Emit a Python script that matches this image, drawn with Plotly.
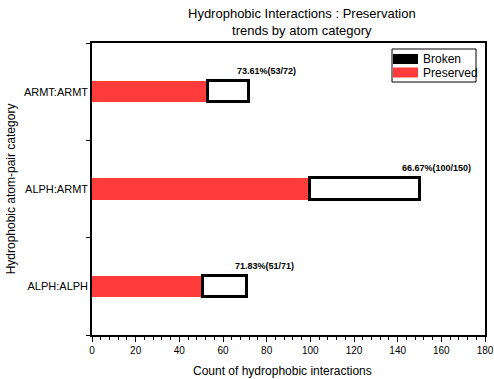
import plotly.graph_objects as go

# Hydrophobic atom-pair categories (bottom to top)
categories = ["ALPH:ALPH", "ALPH:ARMT", "ARMT:ARMT"]
preserved = [51, 100, 53]
broken = [20, 50, 19]
totals = [p + b for p, b in zip(preserved, broken)]
pct_labels = [f"{100 * p / t:.2f}%({p}/{t})" for p, t in zip(preserved, totals)]

x_ticks = list(range(0, 181, 20))
legend_names = ["Broken", "Preserved"]

FONT = "Liberation Sans, Arial, sans-serif"
RED = "#ff3b3b"
BAR_W = 0.22

W, H = 494, 379
M_L, M_R, M_T, M_B = 92, 9, 43, 44
PW, PH = W - M_L - M_R, H - M_T - M_B


def px_x(p):
    return (p - M_L) / PW


def px_y(p):
    return (H - M_B - p) / PH


fig = go.Figure()

fig.add_trace(go.Bar(
    y=categories, x=preserved, orientation="h", name="Preserved",
    width=BAR_W, marker=dict(color=RED, line=dict(width=0)),
    showlegend=False,
))
fig.add_trace(go.Bar(
    y=categories, x=broken, orientation="h", name="Broken",
    width=BAR_W, marker=dict(color="white", line=dict(color="black", width=3.5)),
    showlegend=False,
))

for cat_i, (t, lab) in enumerate(zip(totals, pct_labels)):
    fig.add_annotation(
        x=t, y=cat_i + BAR_W / 2, xref="x", yref="y",
        text=f"<b>{lab}</b>", showarrow=False,
        xanchor="center", yanchor="bottom", xshift=17, yshift=3,
        font=dict(family=FONT, size=9, color="black"),
    )

# title
fig.add_annotation(
    x=px_x(302), y=px_y(21.5), xref="paper", yref="paper",
    text="Hydrophobic Interactions : Preservation<br>trends by atom category",
    showarrow=False, xanchor="center", yanchor="middle",
    font=dict(family=FONT, size=13, color="black"),
)

# x axis title
fig.add_annotation(
    x=px_x(282), y=px_y(371), xref="paper", yref="paper",
    text="Count of hydrophobic interactions",
    showarrow=False, xanchor="center", yanchor="middle",
    font=dict(family=FONT, size=12, color="black"),
)

# legend box with solid swatches
fig.add_shape(type="rect", xref="paper", yref="paper",
              x0=px_x(392), x1=px_x(476), y0=px_y(82), y1=px_y(49),
              line=dict(color="#000000", width=1), fillcolor="#ffffff", layer="above")
swatch_colors = ["#000000", RED]
for k, (name, col) in enumerate(zip(legend_names, swatch_colors)):
    cy = 59 + k * 13.5
    fig.add_shape(type="line", xref="paper", yref="paper",
                  x0=px_x(393), x1=px_x(418), y0=px_y(cy), y1=px_y(cy),
                  line=dict(color=col, width=10), layer="above")
    fig.add_annotation(x=px_x(421), y=px_y(cy), xref="paper", yref="paper",
                       text=name, showarrow=False, xanchor="left", yanchor="middle",
                       font=dict(family=FONT, size=12, color="black"))

fig.update_layout(
    width=W, height=H,
    margin=dict(l=M_L, r=M_R, t=M_T, b=M_B, autoexpand=False),
    barmode="stack",
    paper_bgcolor="white", plot_bgcolor="white",
    font=dict(family=FONT, color="black"),
    showlegend=False,
    bargap=0,
)

fig.update_xaxes(
    range=[0, 180], tickvals=x_ticks,
    ticks="outside", ticklen=5, tickwidth=1, tickcolor="black",
    minor=dict(dtick=4, ticks="outside", ticklen=3, tickcolor="black", tickwidth=1),
    showline=True, linecolor="black", linewidth=1.5, mirror=True,
    showgrid=False, zeroline=False, automargin=False,
    ticklabelstandoff=0,
    tickfont=dict(family=FONT, size=10, color="black"),
)

fig.update_yaxes(
    categoryorder="array", categoryarray=categories,
    range=[-0.5, 2.5],
    tickson="boundaries", ticks="outside", ticklen=4, tickwidth=1, tickcolor="black",
    showline=True, linecolor="black", linewidth=1.5, mirror=True,
    showgrid=False, zeroline=False, automargin=False,
    tickfont=dict(family=FONT, size=11, color="black"),
    title=dict(text="Hydrophobic atom-pair category",
               font=dict(family=FONT, size=12, color="black"), standoff=6),
)

fig.write_html("out.html")
